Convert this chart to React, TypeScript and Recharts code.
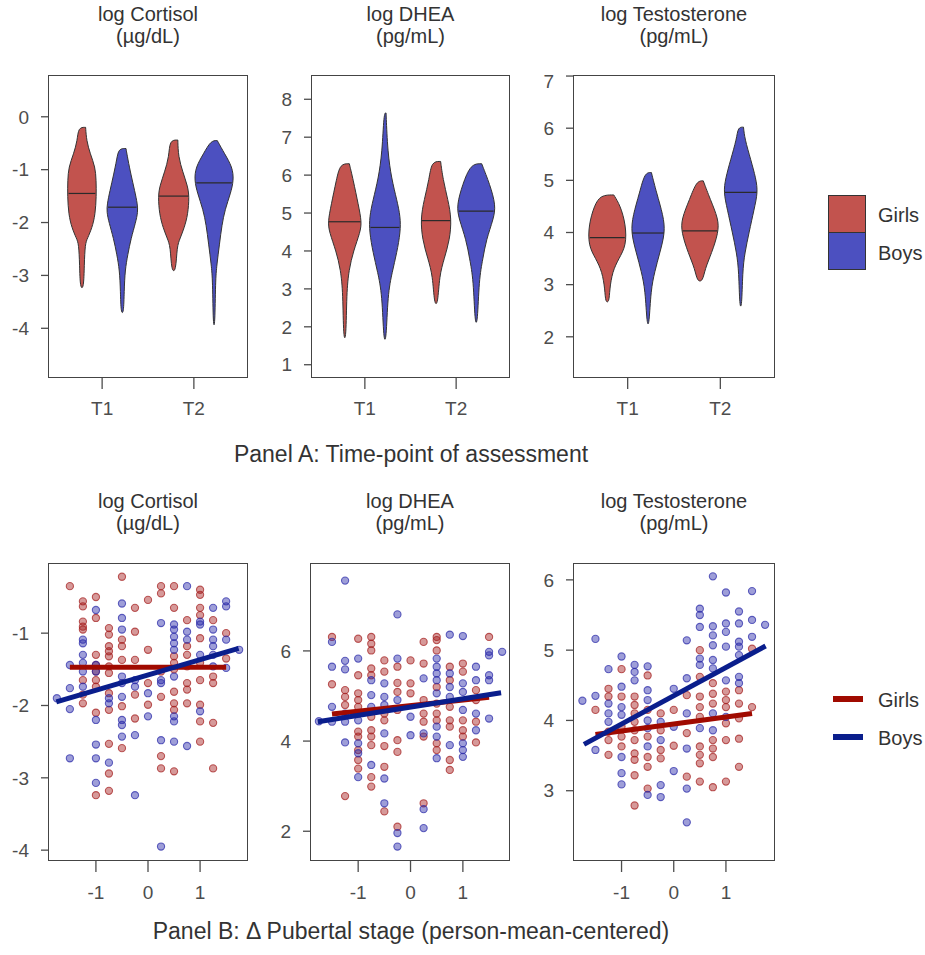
import React from 'react';
import { ScatterChart, Scatter, XAxis, YAxis } from 'recharts';

const FONT = '"Liberation Sans", Arial, Helvetica, sans-serif';
const GIRL_FILL = '#c2534e';
const BOY_FILL = '#4c50c0';
const GIRL_DOT = '#a41c1c';
const BOY_DOT = '#2828a8';
const GIRL_LINE = '#a00a00';
const BOY_LINE = '#0a1e8c';
const TICK_COLOR = '#4d4d4d';

type Profile = [number, number][];
type Cols = [number, number[]][];

// ---- Panel A: violin profiles, [value, half width] from top to bottom ----
const timeTicks = [0, 1];
const timeLabels = ['T1', 'T2'];
const hueOffset = 0.22;

const cortGirlsT1: Profile = [[-0.2, 0.04], [-0.45, 0.05], [-0.7, 0.09], [-0.95, 0.145], [-1.2, 0.155], [-1.5, 0.157], [-1.85, 0.145], [-2.1, 0.11], [-2.3, 0.06], [-2.4, 0.035], [-2.8, 0.025], [-3.25, 0.02]];
const cortBoysT1: Profile = [[-0.6, 0.04], [-0.8, 0.06], [-1.1, 0.095], [-1.4, 0.135], [-1.65, 0.165], [-1.8, 0.17], [-2.0, 0.145], [-2.3, 0.095], [-2.6, 0.06], [-2.9, 0.03], [-3.3, 0.02], [-3.72, 0.015]];
const cortGirlsT2: Profile = [[-0.44, 0.045], [-0.75, 0.05], [-1.05, 0.1], [-1.3, 0.15], [-1.5, 0.17], [-1.85, 0.155], [-2.1, 0.115], [-2.3, 0.07], [-2.45, 0.035], [-2.93, 0.025]];
const cortBoysT2: Profile = [[-0.45, 0.035], [-0.7, 0.115], [-0.95, 0.2], [-1.2, 0.215], [-1.45, 0.18], [-1.75, 0.12], [-2.05, 0.085], [-2.4, 0.06], [-2.8, 0.03], [-3.1, 0.015], [-3.97, 0.01]];
const cortMedians = [-1.45, -1.71, -1.5, -1.25];

const dheaGirlsT1: Profile = [[6.3, 0.05], [5.9, 0.09], [5.2, 0.15], [4.77, 0.185], [4.5, 0.17], [4.0, 0.095], [3.5, 0.045], [2.9, 0.02], [1.66, 0.015]];
const dheaBoysT1: Profile = [[7.64, 0.012], [6.6, 0.03], [5.9, 0.073], [5.35, 0.13], [4.9, 0.17], [4.5, 0.17], [3.95, 0.13], [3.45, 0.08], [2.85, 0.03], [1.62, 0.015]];
const dheaGirlsT2: Profile = [[6.36, 0.05], [5.9, 0.075], [5.35, 0.13], [4.85, 0.17], [4.3, 0.15], [3.8, 0.09], [3.35, 0.036], [2.58, 0.02]];
const dheaBoysT2: Profile = [[6.3, 0.06], [5.75, 0.15], [5.2, 0.215], [4.85, 0.19], [4.3, 0.11], [3.8, 0.073], [3.25, 0.03], [2.07, 0.015]];
const dheaMedians = [4.77, 4.62, 4.8, 5.05];

const testGirlsT1: Profile = [[4.72, 0.07], [4.52, 0.14], [4.15, 0.2], [3.75, 0.205], [3.5, 0.125], [3.25, 0.055], [2.9, 0.025], [2.66, 0.02]];
const testBoysT1: Profile = [[5.15, 0.036], [4.77, 0.09], [4.32, 0.165], [4.0, 0.185], [3.6, 0.125], [3.25, 0.072], [2.9, 0.03], [2.22, 0.012]];
const testGirlsT2: Profile = [[4.99, 0.036], [4.64, 0.11], [4.26, 0.2], [4.0, 0.2], [3.6, 0.125], [3.3, 0.054], [3.06, 0.03]];
const testBoysT2: Profile = [[6.02, 0.03], [5.8, 0.043], [5.4, 0.108], [5.03, 0.165], [4.77, 0.185], [4.45, 0.145], [4.0, 0.09], [3.6, 0.043], [3.25, 0.02], [2.56, 0.012]];
const testMedians = [3.9, 3.99, 4.03, 4.77];

// ---- Panel B: scatter points by pubertal-stage column, and fitted lines ----
const stageTicks = [-1, 0, 1];

const cortGirls: Cols = [
  [-1.5, [-0.35]],
  [-1.25, [-0.56, -0.63, -0.84, -0.91, -0.95, -1.65, -1.85, -1.97]],
  [-1, [-0.5, -0.79, -1.3, -1.44, -1.53, -1.65, -1.74, -2.1, -3.24]],
  [-0.75, [-0.93, -1.02, -1.18, -1.25, -1.32, -1.46, -1.55, -1.83, -2.06, -2.53, -2.94, -3.18]],
  [-0.5, [-0.22, -1.09, -1.18, -1.37, -2.01, -2.59]],
  [-0.25, [-0.65, -0.98, -1.37, -1.85, -2.18]],
  [0, [-0.54, -1.23, -1.69, -1.99]],
  [0.25, [-0.35, -0.45, -1.53, -1.88, -2.7, -2.87]],
  [0.5, [-0.35, -0.65, -1.32, -1.41, -1.5, -1.81, -1.97, -2.06, -2.91]],
  [0.75, [-0.82, -1.18, -1.3, -1.46, -1.69, -1.78, -1.97]],
  [1, [-0.4, -0.47, -0.65, -0.75, -1.07, -1.41, -1.65, -1.99, -2.22, -2.5]],
  [1.25, [-0.82, -1.6, -1.69, -2.24, -2.87]],
  [1.5, [-1.0, -1.35]],
];
const cortBoys: Cols = [
  [-1.75, [-1.9]],
  [-1.5, [-1.44, -1.76, -2.05, -2.73]],
  [-1.25, [-1.09, -1.14, -1.3, -1.41, -1.53, -1.74]],
  [-1, [-0.68, -1.44, -1.53, -2.2, -2.54, -2.73, -3.07]],
  [-0.75, [-1.9, -1.97, -2.79]],
  [-0.5, [-0.59, -0.79, -0.95, -1.6, -1.69, -1.88, -2.2, -2.27, -2.43]],
  [-0.25, [-1.65, -1.74, -2.41, -3.24]],
  [0, [-1.83, -2.15]],
  [0.25, [-0.86, -1.65, -1.69, -2.48, -3.95]],
  [0.5, [-0.88, -0.95, -1.05, -1.14, -1.23, -1.6, -2.15, -2.22, -2.5]],
  [0.75, [-0.35, -0.98, -1.09, -2.56]],
  [1, [-0.84, -0.88, -1.3, -2.08]],
  [1.25, [-0.65, -0.95, -1.09, -1.18, -1.3, -1.46]],
  [1.5, [-0.56, -0.63, -1.09, -1.48]],
  [1.75, [-1.23]],
];
const cortGirlsFit: [number, number][] = [[-1.5, -1.47], [1.5, -1.47]];
const cortBoysFit: [number, number][] = [[-1.76, -1.95], [1.74, -1.21]];

const dheaGirls: Cols = [
  [-1.5, [6.31, 5.26]],
  [-1.25, [5.13, 4.98, 4.8, 2.78]],
  [-1, [6.27, 5.46, 5.06, 4.91, 4.76, 4.21, 4.1, 3.8, 3.58, 3.39]],
  [-0.75, [6.31, 6.16, 6.01, 5.61, 5.46, 4.54, 4.24, 4.1, 3.91, 3.2, 2.99]],
  [-0.5, [5.79, 5.54, 4.61, 4.46, 3.89, 3.43, 2.44]],
  [-0.25, [5.65, 5.29, 5.09, 4.69, 4.02, 3.76, 2.1]],
  [0, [5.79, 5.28, 5.06]],
  [0.25, [6.2, 5.72, 4.91, 4.61, 4.43, 4.1, 2.62]],
  [0.5, [6.31, 6.24, 6.01, 5.2, 4.83, 4.61, 4.46, 3.95, 3.8]],
  [0.75, [5.65, 5.35, 4.76, 4.46, 4.32, 3.58, 3.36]],
  [1, [5.72, 5.54, 4.46, 4.24, 4.1]],
  [1.25, [5.13, 4.91, 4.43, 3.97]],
  [1.5, [6.31]],
];
const dheaBoys: Cols = [
  [-1.75, [4.44]],
  [-1.5, [6.2, 5.65, 4.76, 4.43]],
  [-1.25, [7.56, 5.78, 5.59, 4.61, 4.43, 3.97]],
  [-1, [5.83, 4.46, 3.95, 3.73, 3.2]],
  [-0.75, [5.35, 5.02, 4.76, 3.47]],
  [-0.5, [5.28, 4.98, 4.8, 4.17, 3.17, 2.62]],
  [-0.25, [6.81, 5.83, 4.91, 1.96, 1.66]],
  [0, [4.54, 4.13]],
  [0.25, [5.39, 4.17, 2.49, 2.07]],
  [0.5, [5.83, 5.65, 5.5, 5.35, 5.06, 4.32, 4.1, 3.62]],
  [0.75, [6.36, 5.5, 5.2, 4.98, 3.91]],
  [1, [6.33, 5.28, 5.09, 4.69, 3.95, 3.8, 3.65]],
  [1.25, [5.65, 5.35, 4.61, 4.24]],
  [1.5, [5.98, 5.9, 5.46, 5.35, 4.5]],
  [1.75, [5.98]],
];
const dheaGirlsFit: [number, number][] = [[-1.5, 4.6], [1.5, 4.97]];
const dheaBoysFit: [number, number][] = [[-1.77, 4.43], [1.73, 5.07]];

const testGirls: Cols = [
  [-1.5, [4.15]],
  [-1.25, [4.45, 4.34, 3.84, 3.72, 3.51]],
  [-1, [4.73, 4.34, 3.91, 3.77, 3.63]],
  [-0.75, [4.34, 4.22, 4.1, 3.98, 3.86, 3.72, 3.53, 3.44, 3.22, 2.79]],
  [-0.5, [4.64, 4.15, 3.77, 3.48, 3.34, 3.03]],
  [-0.25, [4.1, 3.86, 3.58, 3.46]],
  [0, [4.15, 3.64]],
  [0.25, [4.36, 3.82, 3.2]],
  [0.5, [5.0, 4.62, 4.34, 4.19, 4.05, 3.63, 3.51, 3.39, 3.13]],
  [0.75, [4.53, 4.38, 4.24, 3.72, 3.6, 3.48, 3.05]],
  [1, [4.41, 4.29, 4.19, 3.96, 3.72, 3.13]],
  [1.25, [4.43, 4.24, 4.03, 3.74, 3.34]],
  [1.5, [5.02, 4.19]],
];
const testBoys: Cols = [
  [-1.75, [4.28]],
  [-1.5, [5.16, 4.35, 3.58]],
  [-1.25, [4.73, 4.24, 4.1, 3.98]],
  [-1, [4.91, 4.48, 4.19, 4.08, 3.48, 3.25, 3.09]],
  [-0.75, [4.79, 4.69, 4.57]],
  [-0.5, [4.77, 4.43, 4.29, 4.0, 3.89, 3.63, 2.94]],
  [-0.25, [3.98, 3.72, 3.08, 2.91]],
  [0, [4.45, 3.91, 3.28]],
  [0.25, [5.14, 4.6, 4.1, 3.6, 3.03, 2.55]],
  [0.5, [5.59, 5.5, 5.33, 4.88, 4.79, 3.89]],
  [0.75, [6.05, 5.34, 5.21, 5.07, 4.86, 4.74, 4.1, 3.86]],
  [1, [5.82, 5.38, 5.26, 5.05, 4.57, 4.05]],
  [1.25, [5.55, 5.38, 5.12, 5.05, 4.93, 4.62, 4.53]],
  [1.5, [5.84, 5.43, 5.19]],
  [1.75, [5.36]],
];
const testGirlsFit: [number, number][] = [[-1.5, 3.8], [1.5, 4.1]];
const testBoysFit: [number, number][] = [[-1.72, 3.66], [1.76, 5.06]];

// ---- helpers ----
const toPts = (cols: Cols) => cols.flatMap(([x, ys]) => ys.map((y) => ({ x, y })));
const fitPts = (f: [number, number][]) => f.map(([x, y]) => ({ x, y }));

function violinOutline(center: number, profile: Profile) {
  const right = profile.map(([v, w]) => ({ x: center + w, y: v }));
  const left = [...profile].reverse().map(([v, w]) => ({ x: center - w, y: v }));
  return [...right, ...left, right[0]];
}

function widthAt(profile: Profile, v: number) {
  for (let i = 0; i < profile.length - 1; i++) {
    const [v0, w0] = profile[i];
    const [v1, w1] = profile[i + 1];
    if (v <= v0 && v >= v1) return w0 + ((v0 - v) / (v0 - v1)) * (w1 - w0);
  }
  return profile[0][1];
}

function medianSegment(center: number, profile: Profile, m: number) {
  const w = widthAt(profile, m) * 0.93;
  return [{ x: center - w, y: m }, { x: center + w, y: m }];
}

const NoDot = () => <g />;
const makeDot = (color: string) => (p: any) => (
  <circle cx={p.cx} cy={p.cy} r={3.6} fill={color} fillOpacity={0.45} stroke={color} strokeOpacity={0.7} strokeWidth={1.1} />
);
const girlDot = makeDot(GIRL_DOT);
const boyDot = makeDot(BOY_DOT);

const YW = 45;
const MT = 5;
const MR = 5;
const XH = 50;

const tickStyle = { fill: TICK_COLOR, fontSize: 19, fontFamily: FONT };

interface Box { left: number; top: number; w: number; h: number }

const Title = ({ box, top, line1, line2 }: { box: Box; top: number; line1: string; line2: string }) => (
  <div style={{ position: 'absolute', left: box.left - 40, width: box.w + 80, top, textAlign: 'center', fontFamily: FONT, fontSize: 20, lineHeight: '22px', color: '#333' }}>
    <div>{line1}</div>
    <div>{line2}</div>
  </div>
);

const Frame = ({ box }: { box: Box }) => (
  <div style={{ position: 'absolute', left: box.left, top: box.top, width: box.w, height: box.h, border: '1.4px solid #444', boxSizing: 'border-box', pointerEvents: 'none' }} />
);

interface ViolinProps {
  box: Box;
  yDomain: [number, number];
  yTicks: number[];
  profiles: Profile[];
  medians: number[];
}

const ViolinPanel = ({ box, yDomain, yTicks, profiles, medians }: ViolinProps) => {
  const centers = [-hueOffset, hueOffset, 1 - hueOffset, 1 + hueOffset];
  const fills = [GIRL_FILL, BOY_FILL, GIRL_FILL, BOY_FILL];
  return (
    <>
      <div style={{ position: 'absolute', left: box.left - YW, top: box.top - MT }}>
        <ScatterChart width={YW + box.w + MR} height={MT + box.h + XH} margin={{ top: MT, right: MR, bottom: 0, left: 0 }}>
          <XAxis type="number" dataKey="x" domain={[-0.59, 1.59]} allowDataOverflow ticks={timeTicks}
            tickFormatter={(v: number) => timeLabels[v] ?? ''} height={XH} axisLine={false}
            tickLine={{ stroke: TICK_COLOR, strokeWidth: 1.3 }} tickSize={11} tickMargin={13} tick={tickStyle} />
          <YAxis type="number" dataKey="y" domain={yDomain} allowDataOverflow ticks={yTicks} width={YW} axisLine={false}
            tickLine={{ stroke: TICK_COLOR, strokeWidth: 1.3 }} tickSize={7} tickMargin={12} tick={tickStyle} />
          {profiles.map((p, i) => (
            <Scatter key={`v${i}`} data={violinOutline(centers[i], p)} shape={NoDot} lineType="joint" lineJointType="basis"
              line={{ fill: fills[i], fillOpacity: 1, stroke: '#333', strokeWidth: 1 }} isAnimationActive={false} />
          ))}
          {profiles.map((p, i) => (
            <Scatter key={`m${i}`} data={medianSegment(centers[i], p, medians[i])} shape={NoDot} lineType="joint"
              line={{ stroke: '#2a2a2a', strokeWidth: 1.2 }} isAnimationActive={false} />
          ))}
        </ScatterChart>
      </div>
      <Frame box={box} />
    </>
  );
};

interface ScatterProps {
  box: Box;
  xDomain: [number, number];
  yDomain: [number, number];
  yTicks: number[];
  girls: Cols;
  boys: Cols;
  girlsFit: [number, number][];
  boysFit: [number, number][];
}

const ScatterPanel = ({ box, xDomain, yDomain, yTicks, girls, boys, girlsFit, boysFit }: ScatterProps) => (
  <>
    <div style={{ position: 'absolute', left: box.left - YW, top: box.top - MT }}>
      <ScatterChart width={YW + box.w + MR} height={MT + box.h + XH} margin={{ top: MT, right: MR, bottom: 0, left: 0 }}>
        <XAxis type="number" dataKey="x" domain={xDomain} allowDataOverflow ticks={stageTicks} height={XH} axisLine={false}
          tickLine={{ stroke: TICK_COLOR, strokeWidth: 1.3 }} tickSize={11} tickMargin={14} tick={tickStyle} />
        <YAxis type="number" dataKey="y" domain={yDomain} allowDataOverflow ticks={yTicks} width={YW} axisLine={false}
          tickLine={{ stroke: TICK_COLOR, strokeWidth: 1.3 }} tickSize={7} tickMargin={12} tick={tickStyle} />
        <Scatter name="Girls" data={toPts(girls)} shape={girlDot} isAnimationActive={false} />
        <Scatter name="Boys" data={toPts(boys)} shape={boyDot} isAnimationActive={false} />
        <Scatter name="GirlsFit" data={fitPts(girlsFit)} shape={NoDot} lineType="joint"
          line={{ stroke: GIRL_LINE, strokeWidth: 5 }} isAnimationActive={false} />
        <Scatter name="BoysFit" data={fitPts(boysFit)} shape={NoDot} lineType="joint"
          line={{ stroke: BOY_LINE, strokeWidth: 5 }} isAnimationActive={false} />
      </ScatterChart>
    </div>
    <Frame box={box} />
  </>
);

const topBoxes: Box[] = [
  { left: 48, top: 75, w: 200, h: 303 },
  { left: 311, top: 75, w: 199, h: 303 },
  { left: 573, top: 75, w: 202, h: 303 },
];
const bottomBoxes: Box[] = [
  { left: 48, top: 563, w: 200, h: 298 },
  { left: 310, top: 563, w: 200, h: 298 },
  { left: 573, top: 563, w: 202, h: 298 },
];

const titles: [string, string][] = [
  ['log Cortisol', '(µg/dL)'],
  ['log DHEA', '(pg/mL)'],
  ['log Testosterone', '(pg/mL)'],
];

const legendText = { position: 'absolute' as const, left: 878, fontFamily: FONT, fontSize: 20, color: '#333', lineHeight: '22px' };

export default function App() {
  return (
    <div style={{ position: 'absolute', left: 0, top: 0, width: 925, height: 955, background: '#fff', overflow: 'hidden' }}>
      {titles.map((t, i) => (
        <Title key={`tt${i}`} box={topBoxes[i]} top={3} line1={t[0]} line2={t[1]} />
      ))}
      {titles.map((t, i) => (
        <Title key={`bt${i}`} box={bottomBoxes[i]} top={490} line1={t[0]} line2={t[1]} />
      ))}

      <ViolinPanel box={topBoxes[0]} yDomain={[-4.94, 0.79]} yTicks={[-4, -3, -2, -1, 0]}
        profiles={[cortGirlsT1, cortBoysT1, cortGirlsT2, cortBoysT2]} medians={cortMedians} />
      <ViolinPanel box={topBoxes[1]} yDomain={[0.65, 8.64]} yTicks={[1, 2, 3, 4, 5, 6, 7, 8]}
        profiles={[dheaGirlsT1, dheaBoysT1, dheaGirlsT2, dheaBoysT2]} medians={dheaMedians} />
      <ViolinPanel box={topBoxes[2]} yDomain={[1.21, 7.02]} yTicks={[2, 3, 4, 5, 6, 7]}
        profiles={[testGirlsT1, testBoysT1, testGirlsT2, testBoysT2]} medians={testMedians} />

      <ScatterPanel box={bottomBoxes[0]} xDomain={[-1.92, 1.92]} yDomain={[-4.15, -0.03]} yTicks={[-4, -3, -2, -1]}
        girls={cortGirls} boys={cortBoys} girlsFit={cortGirlsFit} boysFit={cortBoysFit} />
      <ScatterPanel box={bottomBoxes[1]} xDomain={[-1.92, 1.9]} yDomain={[1.34, 7.95]} yTicks={[2, 4, 6]}
        girls={dheaGirls} boys={dheaBoys} girlsFit={dheaGirlsFit} boysFit={dheaBoysFit} />
      <ScatterPanel box={bottomBoxes[2]} xDomain={[-1.93, 1.94]} yDomain={[2.0, 6.24]} yTicks={[3, 4, 5, 6]}
        girls={testGirls} boys={testBoys} girlsFit={testGirlsFit} boysFit={testBoysFit} />

      <div style={{ position: 'absolute', left: 211, width: 400, top: 441, textAlign: 'center', fontFamily: FONT, fontSize: 23, lineHeight: '26px', color: '#333' }}>
        Panel A: Time-point of assessment
      </div>
      <div style={{ position: 'absolute', left: 111, width: 600, top: 918, textAlign: 'center', fontFamily: FONT, fontSize: 23, lineHeight: '26px', color: '#333' }}>
        Panel B: Δ Pubertal stage (person-mean-centered)
      </div>

      {/* legend, panel A */}
      <div style={{ position: 'absolute', left: 828, top: 195, width: 38, height: 38, background: GIRL_FILL, border: '1px solid #333', boxSizing: 'border-box' }} />
      <div style={{ position: 'absolute', left: 828, top: 232, width: 38, height: 38, background: BOY_FILL, border: '1px solid #333', boxSizing: 'border-box' }} />
      <div style={{ ...legendText, top: 204 }}>Girls</div>
      <div style={{ ...legendText, top: 242 }}>Boys</div>

      {/* legend, panel B */}
      <div style={{ position: 'absolute', left: 833, top: 696, width: 30, height: 6, background: GIRL_LINE }} />
      <div style={{ position: 'absolute', left: 833, top: 734, width: 30, height: 6, background: BOY_LINE }} />
      <div style={{ ...legendText, top: 689 }}>Girls</div>
      <div style={{ ...legendText, top: 727 }}>Boys</div>
    </div>
  );
}
